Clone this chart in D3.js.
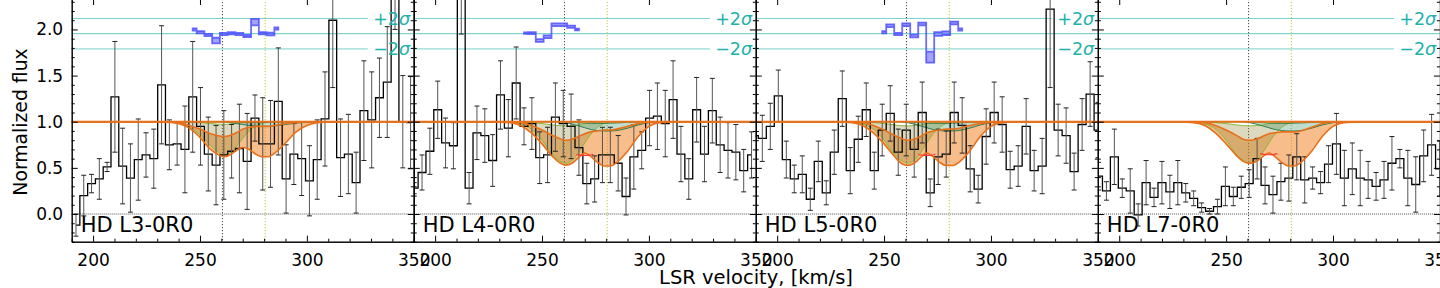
<!DOCTYPE html>
<html>
<head>
<meta charset="utf-8">
<script src="https://cdn.jsdelivr.net/npm/d3@7"></script>
<style>
  body { margin: 0; background: #fff; }
  svg { display: block; font-family: "DejaVu Sans", sans-serif; }
</style>
</head>
<body>
<div id="chart"></div>
<script>
// ---- data ----
var panelNames = ["HD L3-0R0", "HD L4-0R0", "HD L5-0R0", "HD L7-0R0"];
var binStart = [192.0, 190.2, 189.3, 190.3];   // velocity of first bin centre
var binStep  = [3.64, 3.67, 3.74, 3.71];

var fluxL3 = [-0.12, 0.20, 0.33, 0.38, 0.51, 1.27, 0.52, 0.39, 0.59, 0.64, 0.60, 1.40, 0.75, 0.76, 0.70, 1.27,
              0.95, 0.65, 0.53, 0.64, 0.68, 0.71, 0.57, 1.04, 0.76, 0.76, 1.22, 0.38, 0.65, 0.60, 0.36, 0.59,
              1.03, 2.10, 0.61, 0.65, 0.34, 1.12, 1.02, 1.26, 1.43, 2.80, 1.00, 0.99];
var errL3  = [0.12, 0.22, 0.10, 0.22, 0.05, 0.60, 0.41, 0.37, 0.44, 0.24, 0.32, 0.64, 0.27, 0.23, 0.47, 0.60,
              0.42, 0.40, 0.43, 0.48, 0.29, 0.48, 0.52, 0.25, 0.50, 0.47, 0.58, 0.37, 0.33, 0.40, 0.38, 0.43,
              0.51, 0.73, 0.42, 0.43, 0.33, 0.54, 0.52, 0.43, 0.60, 0.80, 0.50, 0.50];

var fluxL4 = [0.28, 0.45, 0.68, 1.13, 0.77, 0.74, 2.70, 0.28, 0.88, 0.85, 0.58, 1.29, 0.93, 1.42, 0.95, 0.98,
              0.61, 0.64, 1.05, 0.98, 0.95, 0.72, 0.33, 0.38, 0.64, 0.64, 0.55, 0.19, 0.62, 0.69, 1.04, 1.06,
              0.98, 1.24, 0.65, 0.38, 1.13, 0.65, 1.12, 0.75, 0.69, 0.67, 0.47, 0.64];
var errL4  = [0.06, 0.19, 0.25, 0.31, 0.27, 0.25, 0.75, 0.17, 0.29, 0.29, 0.28, 0.37, 0.31, 0.39, 0.20, 0.28,
              0.28, 0.30, 0.37, 0.36, 0.35, 0.30, 0.22, 0.25, 0.30, 0.30, 0.30, 0.20, 0.35, 0.20, 0.30, 0.36,
              0.36, 0.42, 0.30, 0.22, 0.35, 0.30, 0.35, 0.30, 0.30, 0.30, 0.23, 0.25];

var fluxL5 = [0.85, 0.82, 0.95, 1.28, 0.59, 0.38, 0.43, 0.16, 0.57, 0.23, 0.67, 1.25, 0.47, 0.81, 1.13, 0.47,
              0.91, 1.09, 0.67, 0.91, 0.70, 1.10, 0.23, 0.62, 0.65, 1.10, 0.96, 0.49, 0.27, 0.84, 1.10, 0.97,
              0.48, 0.52, 0.95, 0.47, 0.52, 2.22, 0.91, 0.85, 0.46, 0.97, 1.30, 0.91];
var errL5  = [0.30, 0.25, 0.25, 0.28, 0.20, 0.15, 0.20, 0.12, 0.22, 0.13, 0.24, 0.30, 0.25, 0.25, 0.29, 0.20,
              0.28, 0.30, 0.25, 0.28, 0.30, 0.33, 0.15, 0.30, 0.25, 0.33, 0.30, 0.25, 0.15, 0.30, 0.33, 0.30,
              0.20, 0.22, 0.30, 0.22, 0.30, 0.85, 0.28, 0.30, 0.20, 0.28, 0.35, 0.30];

var fluxL7 = [0.41, 0.25, 0.62, 0.28, 0.25, -0.01, 0.34, 0.18, 0.34, 0.24, 0.34, 0.23, 0.17, 0.07, 0.03, 0.08,
              0.30, 0.19, 0.29, 0.33, 0.60, 0.31, 0.21, 0.35, 0.39, 0.62, 0.37, 0.39, 0.34, 0.54, 0.76, 0.39,
              0.49, 0.39, 0.37, 0.30, 0.37, 0.55, 0.60, 0.39, 0.32, 0.63, 0.75, 0.49];
var errL7  = [0.15, 0.10, 0.30, 0.10, 0.24, 0.12, 0.24, 0.10, 0.23, 0.18, 0.24, 0.10, 0.08, 0.05, 0.03, 0.08,
              0.21, 0.10, 0.12, 0.15, 0.22, 0.20, 0.20, 0.20, 0.25, 0.25, 0.25, 0.12, 0.12, 0.20, 0.33, 0.30,
              0.28, 0.30, 0.20, 0.15, 0.20, 0.29, 0.10, 0.30, 0.30, 0.28, 0.33, 0.30];

// residuals (shifted to the 1.954 level), first bin index per panel
var resStart = [15, 14, 16, 0];
var resL3    = [2.00, 1.97, 1.94, 1.88, 1.95, 1.96, 1.95, 1.93, 2.08, 1.96, 1.95, 2.01];
var resErrL3 = [0.012, 0.012, 0.012, 0.03, 0.012, 0.012, 0.012, 0.012, 0.035, 0.012, 0.015, 0.012];
var resL4    = [1.96, 1.96, 1.88, 1.92, 2.05, 2.05, 2.03, 2.00];
var resErrL4 = [0.008, 0.01, 0.015, 0.015, 0.015, 0.015, 0.012, 0.01];
var resL5    = [1.97, 2.04, 1.95, 2.05, 1.93, 2.06, 1.70, 1.95, 1.96, 2.07, 2.00];
var resErrL5 = [0.012, 0.015, 0.012, 0.015, 0.015, 0.015, 0.06, 0.02, 0.02, 0.015, 0.012];
var resL7    = [];
var resErrL7 = [];
var resZero = 1.954, sigma2 = 0.165;

// model profiles (upper / lower envelope) sampled on modelV
var modelV = [190, 225, 235, 240, 245, 250, 255, 258, 261, 264, 267, 270, 273, 276, 279, 282, 285, 290, 295, 300, 305, 315, 350];
var hiL3 = [1, 1, 0.998, 0.99, 0.96, 0.92, 0.87, 0.85, 0.84, 0.85, 0.88, 0.92, 0.94, 0.95, 0.95, 0.95, 0.96, 0.98, 0.99, 1, 1, 1, 1];
var loL3 = [1, 1, 0.995, 0.98, 0.93, 0.83, 0.70, 0.65, 0.62, 0.64, 0.69, 0.72, 0.70, 0.65, 0.62, 0.62, 0.66, 0.77, 0.89, 0.96, 0.99, 1, 1];
var hiL4 = [1, 1, 0.998, 0.99, 0.96, 0.91, 0.85, 0.82, 0.80, 0.81, 0.84, 0.87, 0.89, 0.90, 0.91, 0.91, 0.92, 0.95, 0.98, 0.995, 1, 1, 1];
var loL4 = [1, 1, 0.99, 0.96, 0.88, 0.76, 0.62, 0.56, 0.53, 0.55, 0.61, 0.66, 0.62, 0.56, 0.52, 0.52, 0.56, 0.68, 0.84, 0.95, 0.99, 1, 1];
var hiL5 = [1, 1, 0.998, 0.99, 0.96, 0.91, 0.85, 0.82, 0.80, 0.81, 0.84, 0.88, 0.90, 0.91, 0.92, 0.92, 0.93, 0.96, 0.98, 0.995, 1, 1, 1];
var loL5 = [1, 1, 0.99, 0.96, 0.88, 0.76, 0.62, 0.55, 0.525, 0.55, 0.61, 0.66, 0.62, 0.56, 0.525, 0.525, 0.56, 0.68, 0.84, 0.95, 0.99, 1, 1];
var hiL7 = [1, 1, 0.998, 0.99, 0.96, 0.91, 0.85, 0.81, 0.80, 0.81, 0.84, 0.87, 0.88, 0.89, 0.89, 0.89, 0.90, 0.94, 0.98, 0.995, 1, 1, 1];
var loL7 = [1, 1, 0.99, 0.96, 0.88, 0.76, 0.63, 0.57, 0.55, 0.57, 0.62, 0.66, 0.62, 0.56, 0.52, 0.52, 0.56, 0.68, 0.84, 0.95, 0.99, 1, 1];

// component near 260 km/s
var compAHiL3 = [1, 1, 1, 0.998, 0.995, 0.99, 0.98, 0.975, 0.97, 0.975, 0.98, 0.99, 0.995, 0.998, 1, 1, 1, 1, 1, 1, 1, 1, 1];
var compALoL3 = [1, 1, 0.995, 0.98, 0.94, 0.86, 0.74, 0.68, 0.64, 0.66, 0.73, 0.82, 0.90, 0.95, 0.98, 0.995, 1, 1, 1, 1, 1, 1, 1];
var compAHi   = [1, 1, 1, 0.998, 0.99, 0.98, 0.965, 0.958, 0.955, 0.958, 0.965, 0.978, 0.99, 0.997, 1, 1, 1, 1, 1, 1, 1, 1, 1];
var compALo   = [1, 1, 0.995, 0.975, 0.92, 0.80, 0.64, 0.58, 0.55, 0.58, 0.66, 0.77, 0.87, 0.94, 0.98, 0.995, 1, 1, 1, 1, 1, 1, 1];
// component near 278 km/s
var compBHiL3 = [1, 1, 1, 1, 1, 1, 1, 1, 1, 0.999, 0.997, 0.995, 0.993, 0.992, 0.992, 0.993, 0.995, 0.998, 1, 1, 1, 1, 1];
var compBLoL3 = [1, 1, 1, 1, 1, 1, 1, 1, 0.997, 0.99, 0.98, 0.97, 0.96, 0.955, 0.95, 0.95, 0.955, 0.97, 0.985, 0.995, 1, 1, 1];
var compBHi   = [1, 1, 1, 1, 1, 1, 1, 1, 0.998, 0.995, 0.99, 0.986, 0.983, 0.982, 0.982, 0.984, 0.987, 0.993, 0.998, 1, 1, 1, 1];
var compBLo   = [1, 1, 1, 1, 1, 1, 1, 0.998, 0.99, 0.975, 0.955, 0.935, 0.915, 0.905, 0.90, 0.90, 0.905, 0.93, 0.965, 0.99, 1, 1, 1];

// best fit, only visible between the two troughs
var bestV   = [266, 268, 270, 272, 274];
var bestL3  = [];
var bestL4  = [0.645, 0.637, 0.635, 0.637, 0.648];
var bestL5  = [0.645, 0.637, 0.635, 0.637, 0.648];
var bestL7  = [0.655, 0.645, 0.642, 0.645, 0.655];

var lineV = [260.5, 280.5];        // dotted markers
var xTicks = [200, 250, 300, 350];
var yTicks = [0, 0.5, 1, 1.5, 2];

var panels = [
  {name: panelNames[0], v0: binStart[0], dv: binStep[0], flux: fluxL3, err: errL3, rs: resStart[0], res: resL3, resErr: resErrL3,
   hi: hiL3, lo: loL3, aHi: compAHiL3, aLo: compALoL3, bHi: compBHiL3, bLo: compBLoL3, best: bestL3},
  {name: panelNames[1], v0: binStart[1], dv: binStep[1], flux: fluxL4, err: errL4, rs: resStart[1], res: resL4, resErr: resErrL4,
   hi: hiL4, lo: loL4, aHi: compAHi, aLo: compALo, bHi: compBHi, bLo: compBLo, best: bestL4},
  {name: panelNames[2], v0: binStart[2], dv: binStep[2], flux: fluxL5, err: errL5, rs: resStart[2], res: resL5, resErr: resErrL5,
   hi: hiL5, lo: loL5, aHi: compAHi, aLo: compALo, bHi: compBHi, bLo: compBLo, best: bestL5},
  {name: panelNames[3], v0: binStart[3], dv: binStep[3], flux: fluxL7, err: errL7, rs: resStart[3], res: resL7, resErr: resErrL7,
   hi: hiL7, lo: loL7, aHi: compAHi, aLo: compALo, bHi: compBHi, bLo: compBLo, best: bestL7}
];

// ---- layout ----
var W = 1440, H = 288;
var left0 = 71.7, pw = 342.05, plotTop = -1, plotBottom = 241.7;
var teal = "#20b2aa";

var svg = d3.select("#chart").append("svg").attr("width", W).attr("height", H);

panels.forEach(function(p, i) {
  var L = left0 + i * pw;
  var x = d3.scaleLinear().domain([190, 350]).range([L, L + pw]);
  var y = d3.scaleLinear().domain([-0.3, 2.33]).range([plotBottom, plotTop]);

  svg.append("clipPath").attr("id", "clip" + i)
    .append("rect").attr("x", L).attr("y", plotTop).attr("width", pw).attr("height", plotBottom - plotTop);
  var g = svg.append("g").attr("clip-path", "url(#clip" + i + ")");

  // sigma lines
  [resZero + sigma2, resZero - sigma2].forEach(function(v) {
    g.append("line").attr("x1", x(190)).attr("x2", x(328.5)).attr("y1", y(v)).attr("y2", y(v))
      .attr("stroke", teal).attr("stroke-opacity", 0.6).attr("stroke-width", 1);
  });
  g.append("line").attr("x1", x(190)).attr("x2", x(350)).attr("y1", y(resZero)).attr("y2", y(resZero))
    .attr("stroke", teal).attr("stroke-opacity", 0.7).attr("stroke-width", 1);

  // markers
  g.append("line").attr("x1", x(lineV[0])).attr("x2", x(lineV[0])).attr("y1", plotTop).attr("y2", plotBottom)
    .attr("stroke", "#333").attr("stroke-width", 0.9).attr("stroke-dasharray", "1.2,1.8");
  g.append("line").attr("x1", x(lineV[1])).attr("x2", x(lineV[1])).attr("y1", plotTop).attr("y2", plotBottom)
    .attr("stroke", "#bcbd22").attr("stroke-width", 0.9).attr("stroke-dasharray", "1.2,1.8");
  g.append("line").attr("x1", x(190)).attr("x2", x(350)).attr("y1", y(0)).attr("y2", y(0))
    .attr("stroke", "#222").attr("stroke-width", 0.8).attr("stroke-dasharray", "1,1");

  // model band and components
  var band = function(hiArr, loArr) {
    return d3.area().curve(d3.curveMonotoneX)
      .x(function(d, k) { return x(modelV[k]); })
      .y0(function(d, k) { return y(loArr[k]); })
      .y1(function(d, k) { return y(hiArr[k]); })(modelV);
  };
  var edge = function(arr) {
    return d3.line().curve(d3.curveMonotoneX)
      .x(function(d, k) { return x(modelV[k]); })
      .y(function(d) { return y(d); })(arr);
  };
  g.append("path").attr("d", band(p.hi, p.lo)).attr("fill", "#f08020").attr("fill-opacity", 0.52);
  g.append("path").attr("d", band(p.aHi, p.aLo)).attr("fill", "#8a8228").attr("fill-opacity", 0.3);
  g.append("path").attr("d", band(p.bHi, p.bLo)).attr("fill", "#2e8b57").attr("fill-opacity", 0.3);
  [p.aHi, p.aLo].forEach(function(a) {
    g.append("path").attr("d", edge(a)).attr("fill", "none").attr("stroke", "#8ab83a").attr("stroke-width", 1);
  });
  [p.bHi, p.bLo].forEach(function(a) {
    g.append("path").attr("d", edge(a)).attr("fill", "none").attr("stroke", "#2e7d4f").attr("stroke-width", 1);
  });

  // data histogram
  var pts = p.flux.map(function(f, k) { return {v: p.v0 + k * p.dv, f: f, e: p.err[k]}; });
  g.append("path")
    .attr("d", d3.line().curve(d3.curveStep).x(function(d) { return x(d.v); }).y(function(d) { return y(d.f); })(pts))
    .attr("fill", "none").attr("stroke", "#000").attr("stroke-width", 1.3);

  var eb = g.append("g").attr("stroke-width", 1);
  pts.forEach(function(d) {
    var cx = x(d.v);
    eb.append("line").attr("x1", cx).attr("x2", cx).attr("y1", y(d.f - d.e)).attr("y2", y(d.f + d.e)).attr("stroke", "#555");
    [d.f - d.e, d.f + d.e].forEach(function(v) {
      eb.append("line").attr("x1", cx - 2.5).attr("x2", cx + 2.5).attr("y1", y(v)).attr("y2", y(v)).attr("stroke", "#222");
    });
  });

  // model edges and continuum on top
  g.append("path").attr("d", edge(p.hi)).attr("fill", "none").attr("stroke", "#e8701a").attr("stroke-width", 1.6);
  g.append("path").attr("d", edge(p.lo)).attr("fill", "none").attr("stroke", "#e8701a").attr("stroke-width", 1.6);
  g.append("line").attr("x1", x(190)).attr("x2", x(350)).attr("y1", y(1)).attr("y2", y(1))
    .attr("stroke", "#e8701a").attr("stroke-width", 2.2);
  if (p.best.length) {
    g.append("path")
      .attr("d", d3.line().curve(d3.curveMonotoneX).x(function(d, k) { return x(bestV[k]); }).y(function(d) { return y(d); })(p.best))
      .attr("fill", "none").attr("stroke", "#ff3030").attr("stroke-width", 1.2);
  }

  // residuals
  if (p.res.length) {
    var rp = p.res.map(function(r, k) { return {v: p.v0 + (p.rs + k) * p.dv, r: r, e: p.resErr[k]}; });
    g.append("path")
      .attr("d", d3.area().curve(d3.curveStep).x(function(d) { return x(d.v); })
        .y0(function(d) { return y(d.r - d.e); }).y1(function(d) { return y(d.r + d.e); })(rp))
      .attr("fill", "#4848ff").attr("fill-opacity", 0.5)
      .attr("stroke", "#4848ff").attr("stroke-opacity", 0.8).attr("stroke-width", 1.8);
  }

  // sigma labels
  [["+2", resZero + sigma2], ["\u22122", resZero - sigma2]].forEach(function(s) {
    var t = g.append("text").attr("x", x(331)).attr("y", y(s[1]) + 6.2)
      .attr("font-size", 17.5).attr("fill", teal);
    t.append("tspan").text(s[0]);
    t.append("tspan").attr("font-style", "italic").text("\u03c3");
  });

  // panel label
  g.append("text").attr("x", L + 9).attr("y", 232.3).attr("font-size", 21).attr("fill", "#000").text(p.name);

  // axes (ticks point inwards)
  var styleAxis = function(sel) {
    sel.attr("font-size", 17).attr("font-family", "DejaVu Sans");
    sel.select(".domain").attr("stroke", "#000").attr("stroke-width", 1);
    sel.selectAll(".tick line").attr("stroke", "#000").attr("stroke-width", 1);
    sel.selectAll(".tick text").attr("fill", "#000");
  };
  var xMinor = d3.range(190, 351, 10).filter(function(v) { return xTicks.indexOf(v) < 0; });
  var yMinor = d3.range(-3, 24).map(function(v) { return v / 10; }).filter(function(v) { return yTicks.indexOf(v) < 0; });

  svg.append("g").attr("transform", "translate(0," + plotBottom + ")")
    .call(d3.axisBottom(x).tickValues(xMinor).tickSize(-3).tickSizeOuter(0).tickFormat("")).call(styleAxis);
  svg.append("g").attr("transform", "translate(0," + plotBottom + ")")
    .call(d3.axisBottom(x).tickValues(xTicks).tickSize(-6).tickSizeOuter(0).tickPadding(12).tickFormat(d3.format("d"))).call(styleAxis);
  svg.append("g").attr("transform", "translate(0," + plotTop + ")")
    .call(d3.axisTop(x).tickValues(xTicks).tickSize(-6).tickSizeOuter(0).tickFormat("")).call(styleAxis);

  svg.append("g").attr("transform", "translate(" + L + ",0)")
    .call(d3.axisLeft(y).tickValues(yMinor).tickSize(-3).tickSizeOuter(0).tickFormat("")).call(styleAxis);
  svg.append("g").attr("transform", "translate(" + L + ",0)")
    .call(d3.axisLeft(y).tickValues(yTicks).tickSize(-6).tickSizeOuter(0).tickPadding(8.5)
      .tickFormat(i === 0 ? d3.format(".1f") : "")).call(styleAxis);
  svg.append("g").attr("transform", "translate(" + (L + pw) + ",0)")
    .call(d3.axisRight(y).tickValues(yMinor).tickSize(-3).tickSizeOuter(0).tickFormat("")).call(styleAxis);
  svg.append("g").attr("transform", "translate(" + (L + pw) + ",0)")
    .call(d3.axisRight(y).tickValues(yTicks).tickSize(-6).tickSizeOuter(0).tickFormat("")).call(styleAxis);
});

// axis titles
svg.append("text").attr("transform", "translate(27,122) rotate(-90)").attr("text-anchor", "middle")
  .attr("font-size", 18.8).attr("fill", "#000").text("Normalized flux");
svg.append("text").attr("x", 756).attr("y", 284).attr("text-anchor", "middle")
  .attr("font-size", 19.5).attr("fill", "#000").text("LSR velocity, [km/s]");
</script>
</body>
</html>
